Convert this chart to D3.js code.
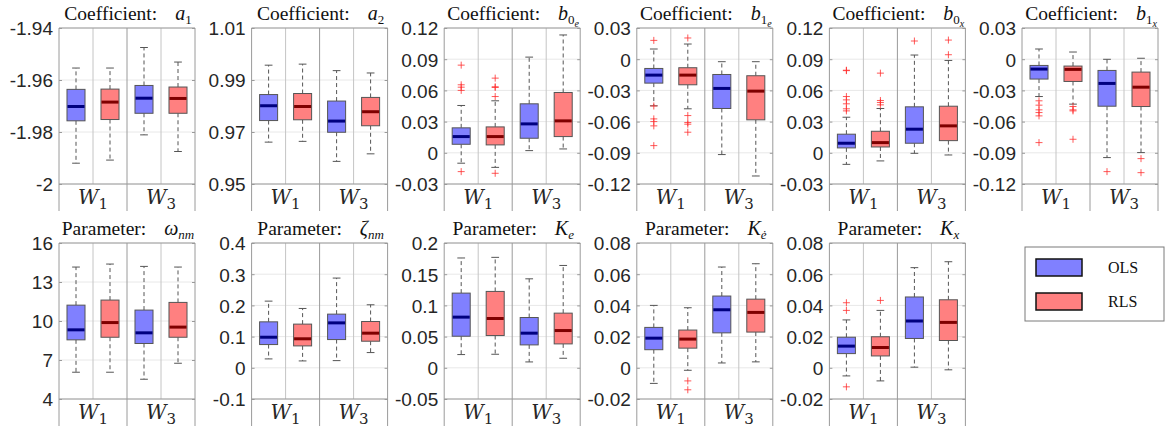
<!DOCTYPE html>
<html>
<head>
<meta charset="utf-8">
<script src="https://cdn.jsdelivr.net/npm/d3@7"></script>
<style>
  body { margin: 0; background: #fff; }
  svg { display: block; }
  .tick text { font-family: "Liberation Sans", Arial, sans-serif; font-size: 19px; fill: #262626; }
</style>
</head>
<body>
<div id="chart"></div>
<script>
// groups / methods
var groups  = ["W1", "W3"];
var methods = ["OLS", "RLS"];
var boxKeys = ["W1-OLS", "W1-RLS", "W3-OLS", "W3-RLS"];

// each box: [lower whisker, Q1, median, Q3, upper whisker], order = boxKeys
var a1Box  = [[-1.9920, -1.9757, -1.9702, -1.9636, -1.9554],
              [-1.9908, -1.9752, -1.9685, -1.9635, -1.9554],
              [-1.9811, -1.9728, -1.9670, -1.9621, -1.9475],
              [-1.9875, -1.9728, -1.9671, -1.9627, -1.9531]];
var a1Out  = [[], [], [], []];
var a1Ticks = [-2, -1.98, -1.96, -1.94];

var a2Box  = [[0.9661, 0.9744, 0.9801, 0.9844, 0.9957],
              [0.9664, 0.9747, 0.9798, 0.9848, 0.9961],
              [0.9587, 0.9699, 0.9742, 0.9819, 0.9936],
              [0.9616, 0.9724, 0.9778, 0.9833, 0.9927]];
var a2Out  = [[], [], [], []];
var a2Ticks = [0.95, 0.97, 0.99, 1.01];

var b0eBox = [[-0.0100, 0.0082, 0.0156, 0.0240, 0.0455],
              [-0.0140, 0.0076, 0.0156, 0.0249, 0.0500],
              [0.0021, 0.0140, 0.0278, 0.0471, 0.0920],
              [0.0037, 0.0156, 0.0307, 0.0580, 0.1133]];
var b0eOut = [[0.0843, 0.0654, 0.0631, 0.0600, -0.0181],
              [0.0718, 0.0635, 0.0628, 0.0541, -0.0197],
              [], []];
var b0eTicks = [-0.03, 0, 0.03, 0.06, 0.09, 0.12];

var b1eBox = [[-0.0448, -0.0230, -0.0153, -0.0089, 0.0098],
              [-0.0477, -0.0246, -0.0153, -0.0082, 0.0146],
              [-0.0917, -0.0474, -0.0281, -0.0147, -0.0024],
              [-0.1123, -0.0583, -0.0307, -0.0159, -0.0024]];
var b1eOut = [[0.0181, -0.0450, -0.0574, -0.0600, -0.0641, -0.0831],
              [0.0204, -0.0542, -0.0609, -0.0625, -0.0702],
              [], []];
var b1eTicks = [-0.12, -0.09, -0.06, -0.03, 0, 0.03];

var b0xBox = [[-0.0111, 0.0047, 0.0092, 0.0179, 0.0342],
              [-0.0078, 0.0056, 0.0098, 0.0207, 0.0426],
              [-0.0005, 0.0092, 0.0227, 0.0442, 0.0940],
              [-0.0021, 0.0117, 0.0259, 0.0448, 0.0888]];
var b0xOut = [[0.0794, 0.0790, 0.0541, 0.0509, 0.0471, 0.0423, 0.0403],
              [0.0766, 0.0503, 0.0484, 0.0461],
              [0.1075],
              [0.1084, 0.0943]];
var b0xTicks = [-0.03, 0, 0.03, 0.06, 0.09, 0.12];

var b1xBox = [[-0.0359, -0.0191, -0.0095, -0.0060, 0.0098],
              [-0.0432, -0.0214, -0.0098, -0.0066, 0.0069],
              [-0.0946, -0.0452, -0.0233, -0.0108, -0.0001],
              [-0.0898, -0.0455, -0.0269, -0.0124, 0.0009]];
var b1xOut = [[-0.0400, -0.0442, -0.0487, -0.0513, -0.0545, -0.0802],
              [-0.0455, -0.0487, -0.0497, -0.0770],
              [-0.1081],
              [-0.0956, -0.1091]];
var b1xTicks = [-0.12, -0.09, -0.06, -0.03, 0, 0.03];

var wnmBox = [[6.06, 8.55, 9.32, 11.22, 14.15],
              [6.06, 8.75, 9.88, 11.61, 14.38],
              [5.52, 8.27, 9.09, 10.84, 14.20],
              [6.75, 8.75, 9.53, 11.43, 14.15]];
var wnmOut = [[], [], [], []];
var wnmTicks = [4, 7, 10, 13, 16];

var znmBox = [[0.0285, 0.0745, 0.0980, 0.1473, 0.2137],
              [0.0220, 0.0702, 0.0930, 0.1400, 0.1902],
              [0.0230, 0.0905, 0.1440, 0.1720, 0.2876],
              [0.0488, 0.0852, 0.1110, 0.1484, 0.2020]];
var znmOut = [[], [], [], []];
var znmTicks = [-0.1, 0, 0.1, 0.2, 0.3, 0.4];

var keBox  = [[0.0212, 0.0506, 0.0812, 0.1197, 0.1760],
              [0.0217, 0.0517, 0.0790, 0.1224, 0.1770],
              [0.0094, 0.0367, 0.0555, 0.0806, 0.1426],
              [0.0153, 0.0383, 0.0597, 0.0876, 0.1640]];
var keOut  = [[], [], [], []];
var keTicks = [-0.05, 0, 0.05, 0.1, 0.15, 0.2];

var kedBox = [[-0.0100, 0.0116, 0.0190, 0.0259, 0.0400],
              [-0.0016, 0.0126, 0.0184, 0.0242, 0.0385],
              [0.0031, 0.0224, 0.0372, 0.0460, 0.0646],
              [0.0038, 0.0229, 0.0355, 0.0440, 0.0667]];
var kedOut = [[], [-0.0084, -0.0141], [], []];
var kedTicks = [-0.02, 0, 0.02, 0.04, 0.06, 0.08];

var kxBox  = [[-0.0052, 0.0091, 0.0139, 0.0196, 0.0307],
              [-0.0084, 0.0076, 0.0130, 0.0199, 0.0368],
              [0.0004, 0.0188, 0.0300, 0.0454, 0.0642],
              [-0.0013, 0.0175, 0.0291, 0.0436, 0.0680]];
var kxOut  = [[0.0417, 0.0368, -0.0122], [0.0432], [], []];
var kxTicks = [-0.02, 0, 0.02, 0.04, 0.06, 0.08];

// title: prefix, symbol, subscript, sub-subscript
var panels = [
  {pre: "Coefficient:", sym: "a", sub: "1", subsub: "", box: a1Box, out: a1Out, ticks: a1Ticks},
  {pre: "Coefficient:", sym: "a", sub: "2", subsub: "", box: a2Box, out: a2Out, ticks: a2Ticks},
  {pre: "Coefficient:", sym: "b", sub: "0", subsub: "e", box: b0eBox, out: b0eOut, ticks: b0eTicks},
  {pre: "Coefficient:", sym: "b", sub: "1", subsub: "e", box: b1eBox, out: b1eOut, ticks: b1eTicks},
  {pre: "Coefficient:", sym: "b", sub: "0", subsub: "x", box: b0xBox, out: b0xOut, ticks: b0xTicks},
  {pre: "Coefficient:", sym: "b", sub: "1", subsub: "x", box: b1xBox, out: b1xOut, ticks: b1xTicks},
  {pre: "Parameter:", sym: "\u03c9", sub: "nm", subsub: "", box: wnmBox, out: wnmOut, ticks: wnmTicks},
  {pre: "Parameter:", sym: "\u03b6", sub: "nm", subsub: "", box: znmBox, out: znmOut, ticks: znmTicks},
  {pre: "Parameter:", sym: "K", sub: "e", subsub: "", box: keBox, out: keOut, ticks: keTicks},
  {pre: "Parameter:", sym: "K", sub: "\u0117", subsub: "", box: kedBox, out: kedOut, ticks: kedTicks},
  {pre: "Parameter:", sym: "K", sub: "x", subsub: "", box: kxBox, out: kxOut, ticks: kxTicks}
];

var fills   = {OLS: "#8080ff", RLS: "#ff8080"};
var medians = {OLS: "#00007f", RLS: "#7f0000"};

var width = 1166, height = 433;
var originX = 59, stepX = 192.6, plotW = 136, plotH = 156, band = 27;
var rowTop = [28, 243];

var svg = d3.select("#chart").append("svg")
  .attr("width", width)
  .attr("height", height);

var x = d3.scaleBand().domain(boxKeys).range([0, plotW]).paddingInner(0.47).paddingOuter(0.235);
var xg = d3.scaleBand().domain(groups).range([0, plotW]);

function fmt(v) { return String(+v.toFixed(4)); }

panels.forEach(function(p, i) {
  var row = i < 6 ? 0 : 1, col = i < 6 ? i : i - 6;
  var g = svg.append("g")
    .attr("transform", "translate(" + (originX + col * stepX) + "," + rowTop[row] + ")");

  var y = d3.scaleLinear()
    .domain([p.ticks[0], p.ticks[p.ticks.length - 1]])
    .range([plotH, 0]);

  // grid
  g.selectAll("line.grid").data(p.ticks).enter().append("line")
    .attr("x1", 0).attr("x2", plotW)
    .attr("y1", function(d) { return y(d); }).attr("y2", function(d) { return y(d); })
    .attr("stroke", "#e8e8e8");

  g.selectAll("line.vq").data([0.25, 0.75]).enter().append("line")
    .attr("x1", function(d) { return d * plotW; }).attr("x2", function(d) { return d * plotW; })
    .attr("y1", 0).attr("y2", plotH)
    .attr("stroke", "#c4c4c4");

  g.selectAll("line.vf").data([0, 0.5, 1]).enter().append("line")
    .attr("x1", function(d) { return d * plotW; }).attr("x2", function(d) { return d * plotW; })
    .attr("y1", 0).attr("y2", plotH + band)
    .attr("stroke", "#9a9a9a");

  g.selectAll("line.hf").data([0, plotH]).enter().append("line")
    .attr("x1", 0).attr("x2", plotW)
    .attr("y1", function(d) { return d; }).attr("y2", function(d) { return d; })
    .attr("stroke", "#9a9a9a");

  // axes
  var ya = g.append("g")
    .call(d3.axisLeft(y).tickValues(p.ticks).tickFormat(fmt).tickSize(-3).tickPadding(6));
  ya.select(".domain").remove();
  ya.selectAll(".tick line").attr("stroke", "#9a9a9a");
  ya.selectAll(".tick text").attr("dy", "0.36em");

  var yr = g.append("g")
    .attr("transform", "translate(" + plotW + ",0)")
    .call(d3.axisRight(y).tickValues(p.ticks).tickFormat("").tickSize(-3));
  yr.select(".domain").remove();
  yr.selectAll(".tick line").attr("stroke", "#9a9a9a");

  // boxes
  var bw = x.bandwidth(), cw = bw * 0.43;
  var boxes = g.selectAll("g.box").data(p.box).enter().append("g")
    .attr("transform", function(d, k) { return "translate(" + (x(boxKeys[k]) + bw / 2) + ",0)"; });

  boxes.append("line")
    .attr("y1", function(d) { return y(d[3]); }).attr("y2", function(d) { return y(d[4]); })
    .attr("stroke", "#555").attr("stroke-dasharray", "4,3");
  boxes.append("line")
    .attr("y1", function(d) { return y(d[1]); }).attr("y2", function(d) { return y(d[0]); })
    .attr("stroke", "#555").attr("stroke-dasharray", "4,3");
  boxes.selectAll("line.cap").data(function(d) { return [d[0], d[4]]; }).enter().append("line")
    .attr("x1", -cw / 2).attr("x2", cw / 2)
    .attr("y1", function(v) { return y(v); }).attr("y2", function(v) { return y(v); })
    .attr("stroke", "#555");
  boxes.append("rect")
    .attr("x", -bw / 2).attr("width", bw)
    .attr("y", function(d) { return y(d[3]); })
    .attr("height", function(d) { return y(d[1]) - y(d[3]); })
    .attr("fill", function(d, k) { return fills[methods[k % 2]]; })
    .attr("stroke", "#555");
  boxes.append("line")
    .attr("x1", -bw / 2 + 0.5).attr("x2", bw / 2 - 0.5)
    .attr("y1", function(d) { return y(d[2]); }).attr("y2", function(d) { return y(d[2]); })
    .attr("stroke", function(d, k) { return medians[methods[k % 2]]; })
    .attr("stroke-width", 3);

  // outliers
  p.out.forEach(function(vals, k) {
    g.selectAll(null).data(vals).enter().append("path")
      .attr("transform", function(v) { return "translate(" + (x(boxKeys[k]) + bw / 2) + "," + y(v) + ")"; })
      .attr("d", "M-3.5,0H3.5M0,-3.5V3.5")
      .attr("stroke", "#ff3030").attr("stroke-opacity", 0.8).attr("fill", "none");
  });

  // group labels
  var gl = g.selectAll("text.grp").data(groups).enter().append("text")
    .attr("x", function(d) { return xg(d) + xg.bandwidth() / 2; })
    .attr("y", plotH + 20)
    .attr("text-anchor", "middle")
    .style("font-family", "'DejaVu Serif', 'Liberation Serif', serif")
    .style("font-size", "20px")
    .style("fill", "#262626");
  gl.append("tspan").style("font-style", "italic").text("W");
  gl.append("tspan").attr("dy", 5).style("font-size", "15px").text(function(d) { return d.slice(1); });

  // title
  var t = g.append("text")
    .attr("x", plotW / 2 + 1).attr("y", -8)
    .attr("text-anchor", "middle")
    .style("font-family", "'Liberation Serif', 'DejaVu Serif', serif")
    .style("font-size", "19.5px")
    .style("fill", "#111");
  t.append("tspan").text(p.pre);
  t.append("tspan").attr("dx", 18).style("font-style", "italic").style("font-size", "20px").text(p.sym);
  t.append("tspan").attr("dy", 4).style("font-size", "13px")
    .style("font-style", /[0-9]/.test(p.sub) ? "normal" : "italic").text(p.sub);
  if (p.subsub) {
    t.append("tspan").attr("dy", 3).style("font-size", "10px").style("font-style", "italic").text(p.subsub);
  }
});

// legend
var lg = svg.append("g").attr("transform", "translate(1025,247)");
lg.append("rect").attr("width", 139).attr("height", 74)
  .attr("fill", "#fff").attr("stroke", "#7a7a7a");
lg.selectAll("rect.sw").data(methods).enter().append("rect")
  .attr("x", 11).attr("y", function(d, k) { return 12 + k * 34; })
  .attr("width", 46).attr("height", 17)
  .attr("fill", function(d) { return fills[d]; })
  .attr("stroke", "#111").attr("stroke-width", 1.5);
lg.selectAll("text.lt").data(methods).enter().append("text")
  .attr("x", 83).attr("y", function(d, k) { return 26 + k * 34; })
  .style("font-family", "'Liberation Serif', 'DejaVu Serif', serif")
  .style("font-size", "16px")
  .style("fill", "#111")
  .text(function(d) { return d; });
</script>
</body>
</html>
